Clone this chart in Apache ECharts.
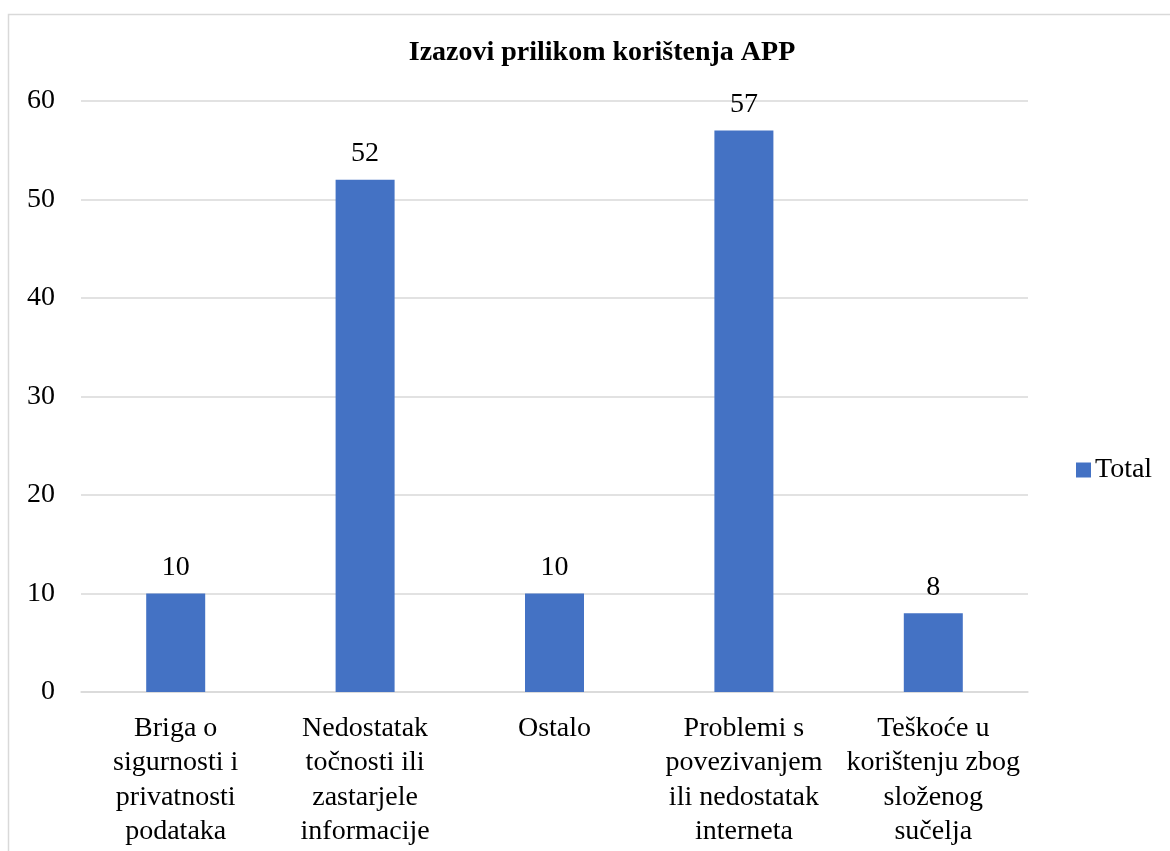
<!DOCTYPE html>
<html>
<head>
<meta charset="utf-8">
<script src="https://cdn.jsdelivr.net/npm/echarts@6/dist/echarts.min.js"></script>
<style>
  html, body { margin: 0; padding: 0; background: #fff; }
  #chart { width: 1170px; height: 851px; }
</style>
</head>
<body>
<div id="chart"></div>
<script>
// podaci
const categories = [
  'Briga o\nsigurnosti i\nprivatnosti\npodataka',
  'Nedostatak\ntočnosti ili\nzastarjele\ninformacije',
  'Ostalo',
  'Problemi s\npovezivanjem\nili nedostatak\ninterneta',
  'Teškoće u\nkorištenju zbog\nsloženog\nsučelja'
];
const totals = [10, 52, 10, 57, 8];
const yTicks = [0, 10, 20, 30, 40, 50, 60];

const font = '"Liberation Serif", "Times New Roman", serif';
const chart = echarts.init(document.getElementById('chart'));

const option = {
  animation: false,
  textStyle: { fontFamily: font },
  title: {
    text: 'Izazovi prilikom korištenja APP',
    left: 597,
    top: 34,
    textAlign: 'center',
    textStyle: { fontFamily: font, fontSize: 28, fontWeight: 'bold', color: '#000' }
  },
  legend: {
    data: ['Total'],
    left: 1071,
    top: 451,
    itemWidth: 15,
    itemHeight: 15,
    itemGap: 6,
    icon: 'rect',
    textStyle: { fontFamily: font, fontSize: 28, color: '#000', padding: [0, 0, 0, -1] }
  },
  grid: { left: 81, right: 142, top: 101, bottom: 159, containLabel: false },
  graphic: [{
    type: 'rect',
    shape: { x: 8.5, y: 14.5, width: 1200, height: 900 },
    style: { fill: 'none', stroke: '#d9d9d9', lineWidth: 1.5 },
    silent: true
  }],
  xAxis: {
    type: 'category',
    data: categories,
    axisLine: { show: true, lineStyle: { color: '#d9d9d9', width: 1.5 } },
    axisTick: { show: false },
    axisLabel: {
      interval: 0,
      margin: 19,
      fontFamily: font,
      fontSize: 28,
      lineHeight: 34.5,
      color: '#000',
      align: 'center'
    }
  },
  yAxis: {
    type: 'value',
    min: yTicks[0],
    max: yTicks[yTicks.length - 1],
    interval: 10,
    axisLine: { show: false },
    axisTick: { show: false },
    splitLine: { lineStyle: { color: '#d9d9d9', width: 1.5 } },
    axisLabel: { margin: 26, fontFamily: font, fontSize: 28, color: '#000' }
  },
  series: [{
    name: 'Total',
    type: 'bar',
    data: totals,
    barWidth: 59,
    itemStyle: { color: '#4472c4' },
    label: {
      show: true,
      position: 'top',
      distance: 12,
      fontFamily: font,
      fontSize: 28,
      color: '#000'
    }
  }]
};

chart.setOption(option);
</script>
</body>
</html>
